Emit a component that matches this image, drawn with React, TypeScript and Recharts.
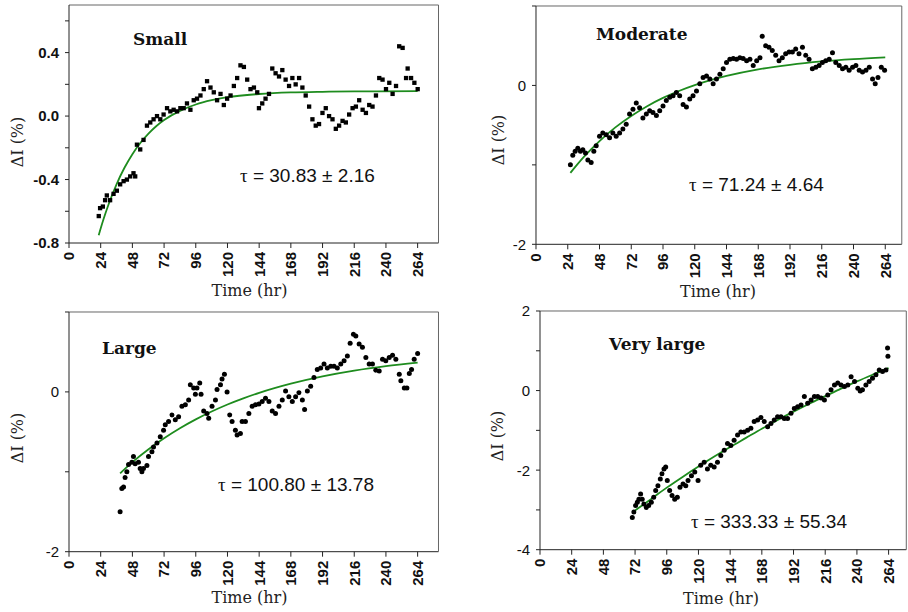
import React from "react";
import { ComposedChart, Scatter, Line, XAxis, YAxis } from "recharts";

const timeTicks = [0, 24, 48, 72, 96, 120, 144, 168, 192, 216, 240, 264];

const smallPts: [number, number][] = [
  [22.5,-0.63],[23.5,-0.58],[25.6,-0.57],[27.3,-0.53],[28.6,-0.5],[31.1,-0.53],[33.7,-0.49],[36.2,-0.47],[38.7,-0.43],[41.3,-0.41],[43.8,-0.4],[46.3,-0.38],[48.8,-0.36],[50.1,-0.38],[51.4,-0.18],[53.9,-0.21],[56.4,-0.15],[59,-0.06],[61.5,-0.04],[64,-0.02],[66.6,0],[69.1,-0.02],[71.6,0.01],[74.2,0.05],[76.7,0.03],[79.2,0.04],[81.8,0.03],[84.3,0.05],[86.8,0.05],[89.3,0.08],[91.9,0.04],[94.4,0.1],[96.9,0.11],[99.5,0.13],[102,0.17],[104.5,0.22],[107.1,0.18],[109.6,0.15],[112.1,0.1],[114.7,0.14],[117.2,0.07],[119.7,0.11],[122.3,0.13],[124.8,0.19],[127.3,0.24],[129.8,0.32],[132.4,0.31],[134.9,0.23],[137.4,0.17],[140,0.18],[142.5,0.15],[143.8,0.05],[146.3,0.08],[148.8,0.11],[151.4,0.14],[153.9,0.3],[156.4,0.27],[159,0.25],[161.5,0.29],[164,0.23],[166.6,0.19],[169.1,0.24],[171.6,0.2],[174.2,0.24],[176.7,0.18],[179.2,0.13],[181.8,0.06],[184.3,-0.02],[186.8,-0.06],[189.3,-0.05],[191.9,0.02],[194.4,0.05],[196.9,0],[199.5,-0.02],[202,-0.08],[204.5,-0.06],[207.1,-0.03],[209.6,-0.04],[212.1,0.01],[214.7,0.05],[217.2,0.06],[219.7,0.1],[222.3,0.04],[224.8,0.02],[227.3,0.07],[229.8,0.06],[232.4,0.13],[234.9,0.24],[237.4,0.23],[240,0.17],[242.5,0.21],[245,0.14],[247.6,0.19],[250,0.44],[252.6,0.43],[255.2,0.24],[256.4,0.3],[259,0.24],[261.5,0.21],[264,0.17]
];
const smallFit: [number, number][] = [
  [22.5,-0.751],[26,-0.654],[30,-0.556],[36,-0.43],[42,-0.326],[48,-0.24],[54,-0.17],[60,-0.112],[66,-0.064],[72,-0.025],[84,0.033],[96,0.073],[108,0.1],[120,0.119],[144,0.139],[168,0.149],[192,0.153],[216,0.155],[264,0.157]
];

const moderatePts: [number, number][] = [
  [26,-1.0],[27.8,-0.88],[29.6,-0.83],[31.6,-0.79],[33.6,-0.83],[35.4,-0.81],[37.4,-0.85],[39.2,-0.94],[41.7,-0.97],[43.7,-0.83],[45.5,-0.76],[48,-0.64],[50.5,-0.6],[53.1,-0.62],[55.6,-0.66],[58.1,-0.6],[60.6,-0.64],[63.2,-0.6],[65.7,-0.55],[68.2,-0.49],[70.7,-0.36],[73.3,-0.3],[75.8,-0.22],[78.3,-0.28],[80.8,-0.41],[83.4,-0.36],[85.9,-0.32],[88.4,-0.34],[91,-0.38],[93.5,-0.32],[96,-0.26],[98.5,-0.19],[101.1,-0.15],[103.6,-0.13],[106.1,-0.09],[108.6,-0.13],[111.2,-0.24],[113.7,-0.27],[116.2,-0.17],[118.7,-0.13],[121.3,-0.07],[123.8,0.02],[126.3,0.1],[128.9,0.12],[131.4,0.08],[133.9,0.02],[136.4,0.08],[139,0.14],[141.5,0.21],[144,0.29],[146.5,0.33],[149.1,0.34],[151.6,0.33],[154.1,0.35],[156.6,0.34],[159.2,0.31],[161.7,0.33],[164.2,0.25],[166.8,0.31],[169.3,0.35],[171,0.62],[173.6,0.5],[176.1,0.48],[178.6,0.44],[181.2,0.38],[183.7,0.31],[186.2,0.35],[188.7,0.4],[191.3,0.42],[193.8,0.42],[196.3,0.46],[198.8,0.4],[201.4,0.48],[203.9,0.38],[206.4,0.33],[208.9,0.21],[211.5,0.23],[214,0.25],[216.5,0.29],[219,0.31],[221.6,0.33],[224.1,0.41],[226.6,0.29],[229.2,0.25],[231.7,0.21],[234.2,0.23],[236.7,0.19],[239.3,0.23],[241.8,0.25],[244.3,0.19],[246.8,0.17],[249.4,0.19],[251.9,0.23],[254.4,0.08],[256.4,0.02],[258.5,0.1],[261,0.23],[263.5,0.19]
];
const moderateFit: [number, number][] = [
  [26,-1.1],[36,-0.903],[48,-0.7],[60,-0.528],[72,-0.384],[84,-0.261],[96,-0.157],[108,-0.07],[120,0.004],[132,0.066],[144,0.119],[168,0.202],[192,0.26],[216,0.302],[240,0.332],[264,0.354]
];

const largePts: [number, number][] = [
  [38.7,-1.5],[40,-1.21],[41.3,-1.19],[42.5,-1.07],[43.8,-1.0],[45.1,-0.91],[47.6,-0.88],[48.8,-0.81],[50.1,-0.9],[52.6,-0.88],[53.9,-0.96],[55.2,-1.0],[56.4,-0.96],[59,-0.92],[60.2,-0.81],[62.8,-0.75],[64,-0.69],[66.6,-0.64],[69.1,-0.56],[71.6,-0.48],[72.9,-0.41],[75.4,-0.37],[78,-0.29],[80.5,-0.35],[83,-0.31],[85.5,-0.18],[88.1,-0.16],[90.6,-0.1],[91.9,0.09],[94.4,0.05],[95.7,-0.03],[96.9,0.05],[99,0.11],[100,-0.03],[102,-0.24],[104.5,-0.27],[105.8,-0.33],[108.3,-0.18],[110.9,-0.1],[112.1,0.03],[114.7,0.09],[115.9,0.16],[117.7,0.22],[119.7,0],[121.7,-0.29],[123.5,-0.37],[126,-0.48],[127.3,-0.54],[129.8,-0.52],[131.1,-0.37],[133.6,-0.37],[136.2,-0.27],[138.7,-0.18],[141.2,-0.16],[143.8,-0.15],[146.3,-0.12],[148.8,-0.08],[151.4,-0.12],[153.9,-0.24],[156.4,-0.27],[159,-0.18],[161.5,-0.1],[164,0.01],[166.5,-0.06],[169.1,-0.12],[171.6,-0.06],[174.1,-0.01],[176.7,-0.1],[178.4,-0.22],[180.5,0.01],[183,0.07],[185.5,0.18],[188,0.28],[190.6,0.3],[193.1,0.35],[195.6,0.3],[198.2,0.32],[200.7,0.32],[203.2,0.3],[205.8,0.35],[208.3,0.39],[210.8,0.45],[212.9,0.61],[215.4,0.72],[217.2,0.7],[219.7,0.6],[222.2,0.56],[224.8,0.43],[227.3,0.35],[229.8,0.35],[232.3,0.27],[234.9,0.26],[237.4,0.41],[239.9,0.39],[242.5,0.43],[245,0.46],[247.5,0.41],[250.1,0.22],[251.3,0.14],[253.9,0.05],[255.9,0.05],[257.7,0.23],[259.4,0.28],[261.4,0.41],[264,0.48]
];
const largeFit: [number, number][] = [
  [38.7,-1.02],[48,-0.879],[60,-0.72],[72,-0.58],[84,-0.455],[96,-0.344],[108,-0.246],[120,-0.158],[132,-0.081],[144,-0.012],[168,0.103],[192,0.194],[216,0.266],[240,0.322],[264,0.366]
];

const veryLargePts: [number, number][] = [
  [69.9,-3.19],[71.1,-3.05],[72.4,-2.89],[73.7,-2.81],[74.9,-2.73],[76.2,-2.6],[77.4,-2.73],[78.7,-2.85],[80.5,-2.94],[82.3,-2.89],[84.3,-2.81],[86.1,-2.68],[87.6,-2.51],[89.3,-2.39],[91.1,-2.22],[92.4,-2.09],[93.9,-1.97],[95.2,-1.92],[96.4,-2.26],[98.2,-2.51],[100,-2.64],[102,-2.73],[104,-2.68],[106,-2.43],[108.3,-2.35],[110.4,-2.39],[112.1,-2.26],[114.7,-2.14],[117.2,-2.05],[119.7,-2.26],[121.7,-1.88],[124.3,-1.8],[126.8,-1.97],[129.3,-1.88],[131.9,-1.92],[134.4,-1.8],[136.9,-1.63],[139.5,-1.5],[142,-1.33],[144.5,-1.38],[147,-1.25],[149.6,-1.12],[152.1,-1.04],[154.6,-1.04],[157.2,-1.0],[159.7,-0.95],[162.2,-0.78],[164.8,-0.74],[167.3,-0.68],[169.8,-0.78],[172.4,-0.91],[174.9,-0.83],[177.4,-0.74],[179.9,-0.66],[182.5,-0.66],[185,-0.7],[187.5,-0.7],[190.1,-0.57],[192.6,-0.45],[195.1,-0.41],[197.7,-0.36],[200.2,-0.15],[202.7,-0.32],[205.3,-0.24],[207.8,-0.15],[210.3,-0.15],[212.9,-0.19],[215.4,-0.24],[217.9,-0.11],[220.4,0.02],[223,0.14],[225.5,0.19],[228,0.14],[230.6,0.1],[233.1,0.14],[235.6,0.35],[238.2,0.23],[240.7,0.06],[242.5,-0.01],[244.2,0.02],[246.8,0.14],[249.3,0.23],[251.8,0.31],[254.4,0.4],[256.9,0.52],[259.4,0.48],[262,0.52],[263.5,0.86],[263.2,1.07]
];
const veryLargeFit: [number, number][] = [
  [70,-3.06],[84,-2.73],[96,-2.44],[108,-2.17],[120,-1.91],[132,-1.66],[144,-1.42],[156,-1.19],[168,-0.96],[180,-0.74],[192,-0.53],[204,-0.33],[216,-0.14],[228,0.05],[240,0.23],[252,0.4],[264,0.565]
];

const toRows = (a: [number, number][]) => a.map(([t, v]) => ({ t, v }));

const SANS = "'Liberation Sans', Arial, sans-serif";
const SERIF = "'DejaVu Serif', serif";

type Cfg = {
  L: number; T: number; R: number; B: number; xMax: number;
  yDomain: [number, number]; yTicks: number[]; yLabeled: number[];
  yBold: boolean; yFmt: (v: number) => string;
  pts: [number, number][]; fit: [number, number][]; square: boolean;
};

const XTick = (props: any) => {
  const { x, y, payload } = props;
  return (
    <text x={x} y={y} transform={`rotate(-90 ${x} ${y})`} textAnchor="end" dy="0.36em"
      fontFamily={SANS} fontSize={15} fontWeight="bold" fill="#111">{payload.value}</text>
  );
};

function Panel({ cfg }: { cfg: Cfg }) {
  const { L, T, R, B, xMax, yDomain, yTicks, yLabeled, yBold, yFmt, pts, fit, square } = cfg;
  const ml = 10, mr = 6, mt = 12, mb = 15, yw = 50, xh = 50, th = 1, rw = 1;
  const width = R - L + ml + yw + mr + rw;
  const height = B - T + mt + th + mb + xh;
  const YTick = (props: any) => {
    const { x, y, payload } = props;
    const v = payload.value;
    if (!yLabeled.some((l) => Math.abs(l - v) < 1e-6)) return <g />;
    return (
      <text x={x} y={y} textAnchor="end" dy="0.36em" fontFamily={SANS} fontSize={15}
        fontWeight={yBold ? "bold" : "normal"} fill="#111">{yFmt(v)}</text>
    );
  };
  const shape = (p: any) =>
    square ? <rect x={p.cx - 2.1} y={p.cy - 2.1} width={4.3} height={4.3} fill="#000" />
      : <circle cx={p.cx} cy={p.cy} r={2.5} fill="#000" />;
  return (
    <div style={{ position: "absolute", left: L - ml - yw, top: T - mt - th }}>
      <ComposedChart width={width} height={height} margin={{ top: mt, right: mr, bottom: mb, left: ml }}>
        <XAxis xAxisId="b" type="number" dataKey="t" domain={[0, xMax]} ticks={timeTicks} interval={0}
          tick={XTick} tickSize={5} tickMargin={4} height={xh} stroke="#222" allowDataOverflow />
        <XAxis xAxisId="top" orientation="top" type="number" dataKey="t" domain={[0, xMax]} ticks={timeTicks}
          interval={0} tick={false} tickSize={4} height={th} stroke="#666" mirror allowDataOverflow />
        <YAxis yAxisId="l" type="number" dataKey="v" domain={yDomain} ticks={yTicks} interval={0}
          tick={YTick} tickSize={4} tickMargin={6} width={yw} stroke="#222" allowDataOverflow />
        <YAxis yAxisId="r" orientation="right" type="number" dataKey="v" domain={yDomain} ticks={yTicks}
          interval={0} tick={false} tickSize={4} width={rw} stroke="#666" mirror allowDataOverflow />
        <Scatter xAxisId="b" yAxisId="l" data={toRows(pts)} dataKey="v" shape={shape} isAnimationActive={false} />
        <Line xAxisId="b" yAxisId="l" data={toRows(fit)} dataKey="v" type="monotone" stroke="#1e8c1e"
          strokeWidth={1.8} dot={false} activeDot={false} isAnimationActive={false} />
        <Line xAxisId="top" yAxisId="r" data={toRows(fit)} dataKey="v" stroke="none" strokeWidth={0}
          dot={false} activeDot={false} isAnimationActive={false} />
      </ComposedChart>
    </div>
  );
}

const panels: Cfg[] = [
  { L: 69, T: 6, R: 437.5, B: 243, xMax: 279.8, yDomain: [-0.8, 0.7],
    yTicks: [-0.8, -0.6, -0.4, -0.2, 0, 0.2, 0.4, 0.6], yLabeled: [-0.8, -0.4, 0, 0.4], yBold: true,
    yFmt: (v) => v.toFixed(1), pts: smallPts, fit: smallFit, square: true },
  { L: 535.7, T: 7, R: 900.5, B: 244.3, xMax: 276.5, yDomain: [-2, 1],
    yTicks: [-2, -1, 0, 1], yLabeled: [-2, 0], yBold: false,
    yFmt: (v) => String(v), pts: moderatePts, fit: moderateFit, square: false },
  { L: 69, T: 313, R: 437.5, B: 551.7, xMax: 279.8, yDomain: [-2, 1],
    yTicks: [-2, -1, 0, 1], yLabeled: [-2, 0], yBold: false,
    yFmt: (v) => String(v), pts: largePts, fit: largeFit, square: false },
  { L: 539.7, T: 312, R: 905, B: 549.7, xMax: 277.4, yDomain: [-4, 2],
    yTicks: [-4, -3, -2, -1, 0, 1, 2], yLabeled: [-4, -2, 0, 2], yBold: false,
    yFmt: (v) => String(v), pts: veryLargePts, fit: veryLargeFit, square: false },
];

const titles = [
  { text: "Small", x: 133, y: 45 },
  { text: "Moderate", x: 596, y: 40 },
  { text: "Large", x: 102, y: 354 },
  { text: "Very large", x: 609, y: 350 },
];
const taus = [
  { text: "30.83 ± 2.16", x: 240, y: 182 },
  { text: "71.24 ± 4.64", x: 689, y: 191 },
  { text: "100.80 ± 13.78", x: 218, y: 491 },
  { text: "333.33 ± 55.34", x: 691, y: 528 },
];
const xTitles = [
  { x: 249.5, y: 296 }, { x: 718, y: 297 }, { x: 249.5, y: 603 }, { x: 721, y: 604 },
];
const yTitles = [
  { x: 17, y: 142 }, { x: 498, y: 140 }, { x: 17, y: 438 }, { x: 497.5, y: 436 },
];

export default function App() {
  return (
    <div style={{ position: "absolute", left: 0, top: 0, width: 908, height: 612, background: "#fff", overflow: "hidden" }}>
      {panels.map((p, i) => <Panel key={i} cfg={p} />)}
      <svg width={908} height={612} style={{ position: "absolute", left: 0, top: 0, pointerEvents: "none" }}>
        {titles.map((t, i) => (
          <text key={"t" + i} x={t.x} y={t.y} fontFamily={SERIF} fontWeight="bold" fontSize={17} fill="#111">{t.text}</text>
        ))}
        {taus.map((t, i) => (
          <text key={"u" + i} x={t.x} y={t.y} fontFamily={SANS} fontSize={19} fill="#111">
            <tspan fontFamily="'Liberation Serif', serif">τ</tspan> = {t.text}
          </text>
        ))}
        {xTitles.map((t, i) => (
          <text key={"x" + i} x={t.x} y={t.y} textAnchor="middle" fontFamily={SERIF} fontSize={16} fill="#222">Time (hr)</text>
        ))}
        {yTitles.map((t, i) => (
          <text key={"y" + i} x={t.x} y={t.y} textAnchor="middle" dy="0.35em" transform={`rotate(-90 ${t.x} ${t.y})`}
            fontFamily={SERIF} fontSize={16} fill="#222">ΔI (%)</text>
        ))}
      </svg>
    </div>
  );
}
